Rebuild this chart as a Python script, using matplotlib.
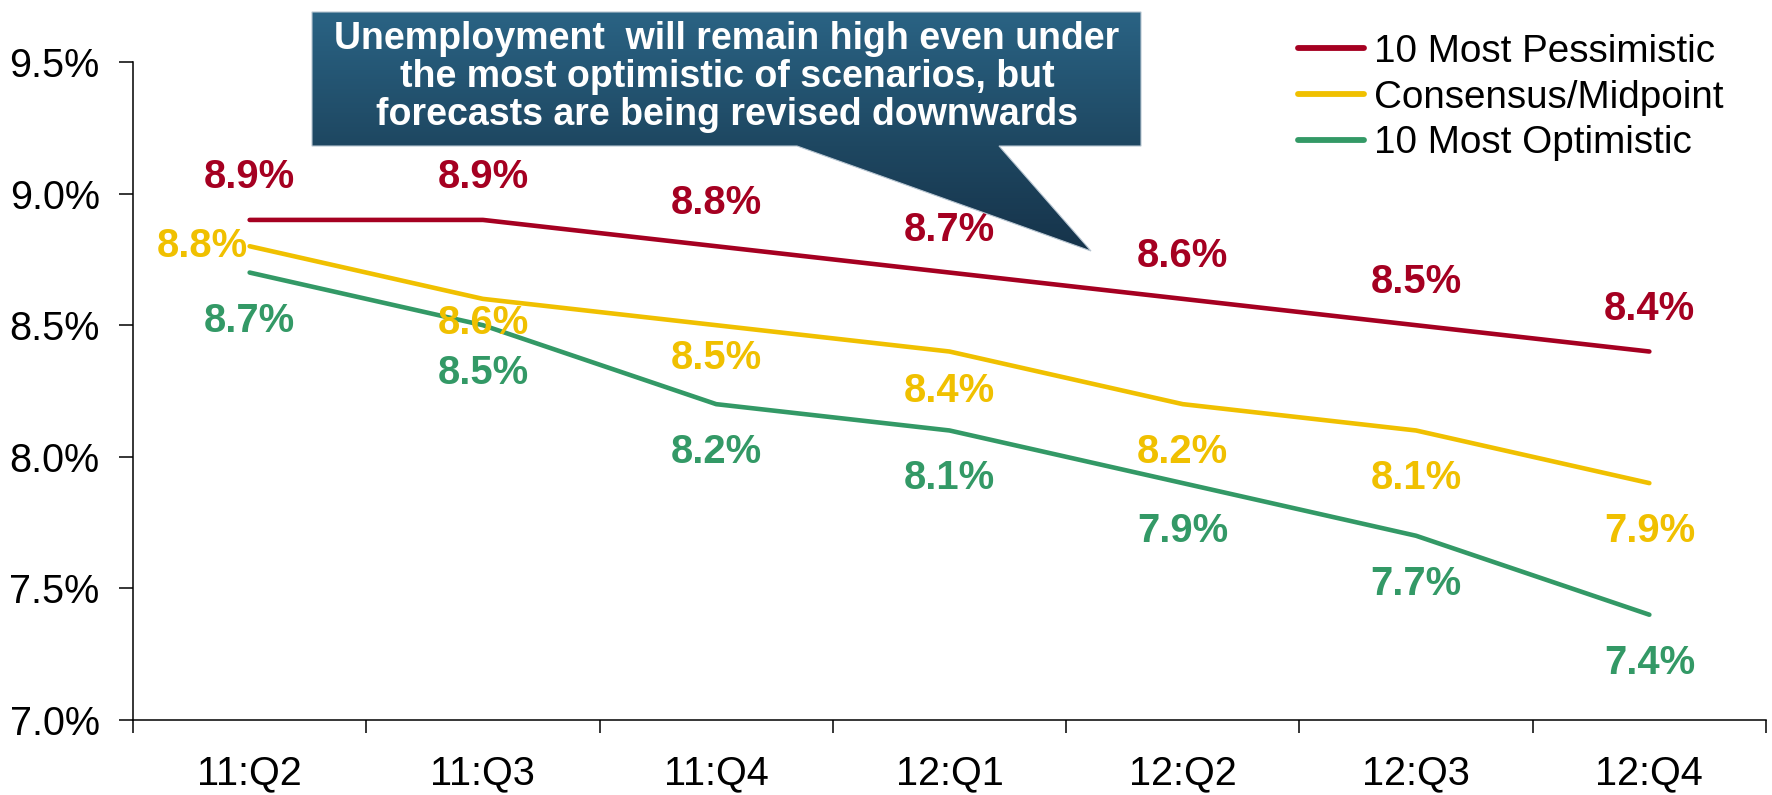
import numpy as np
import matplotlib
matplotlib.use("Agg")
import matplotlib.pyplot as plt
from matplotlib.patches import Polygon
from matplotlib.colors import to_rgb

plt.rcParams['font.family'] = ['Liberation Sans', 'DejaVu Sans']

quarters = ['11:Q2', '11:Q3', '11:Q4', '12:Q1', '12:Q2', '12:Q3', '12:Q4']
pessimistic = [8.9, 8.9, 8.8, 8.7, 8.6, 8.5, 8.4]
consensus = [8.8, 8.6, 8.5, 8.4, 8.2, 8.1, 7.9]
optimistic = [8.7, 8.5, 8.2, 8.1, 7.9, 7.7, 7.4]

RED = '#A50021'
YELLOW = '#F0C000'
GREEN = '#339966'

fig = plt.figure(figsize=(17.72, 7.95), dpi=100)
ax = fig.add_axes([133 / 1772, 75 / 795, (1766 - 133) / 1772, (720 - 62) / 795])

x = np.arange(len(quarters))
lw = 3.3
ax.plot(x, pessimistic, color=RED, lw=lw, solid_capstyle='round', label='10 Most Pessimistic')
ax.plot(x, consensus, color=YELLOW, lw=lw, solid_capstyle='round', label='Consensus/Midpoint')
ax.plot(x, optimistic, color=GREEN, lw=lw, solid_capstyle='round', label='10 Most Optimistic')

ax.set_xlim(-0.5, len(quarters) - 0.5)
ax.set_ylim(7.0, 9.5)

# data labels (offsets in pixels, converted to points)
px = 0.72
lab_kw = dict(textcoords='offset points', fontsize=28.8, fontweight='bold', va='center')
for i, v in enumerate(pessimistic):
    ax.annotate(f'{v:.1f}%', (i, v), xytext=(0, 43 * px), ha='center', color=RED, **lab_kw)
for i, v in enumerate(optimistic):
    ax.annotate(f'{v:.1f}%', (i, v), xytext=(0, -48 * px), ha='center', color=GREEN, **lab_kw)
yel_off = [0, -24, -33, -39, -48, -48, -48]
for i, v in enumerate(consensus):
    if i == 0:
        ax.annotate(f'{v:.1f}%', (i, v), xytext=(-2 * px, 0), ha='right', color=YELLOW, **lab_kw)
    else:
        ax.annotate(f'{v:.1f}%', (i, v), xytext=(0, yel_off[i] * px), ha='center', color=YELLOW, **lab_kw)

# axes styling
for s in ['top', 'right']:
    ax.spines[s].set_visible(False)
for s in ['left', 'bottom']:
    ax.spines[s].set_linewidth(1.1)
ax.set_yticks(np.arange(7.0, 9.51, 0.5))
ax.set_yticklabels([f'{t:.1f}%' for t in np.arange(7.0, 9.51, 0.5)])
ax.tick_params(axis='y', direction='out', length=10, width=1.1, pad=14, labelsize=28.5)
ax.set_xticks(np.arange(-0.5, len(quarters), 1.0))
ax.set_xticklabels([])
ax.tick_params(axis='x', which='major', direction='out', length=9, width=1.1)
ax.set_xticks(x, minor=True)
ax.set_xticklabels(quarters, minor=True)
ax.tick_params(axis='x', which='minor', length=0, pad=25, labelsize=28.5)

leg = fig.legend(loc='upper left', bbox_to_anchor=(1298 / 1772, 1 - 34 / 795), frameon=False,
                 fontsize=27.8, handlelength=1.7, handletextpad=0.27, labelspacing=0.25,
                 borderpad=0, borderaxespad=0)
for h in leg.legend_handles:
    h.set_linewidth(4.2)
    h.set_solid_capstyle('round')

# callout box with gradient
ov = fig.add_axes([0, 0, 1, 1], zorder=5)
ov.set_xlim(0, 1772)
ov.set_ylim(795, 0)
ov.axis('off')
ov.patch.set_alpha(0)
verts = [(312, 12), (1141, 12), (1141, 146), (999, 146), (1091, 251), (797, 146), (312, 146)]
poly = Polygon(verts, closed=True, facecolor='none', edgecolor='#b8c6d2', lw=0.8, zorder=6)
ov.add_patch(poly)
top_c = np.array(to_rgb('#2a6384'))
mid_c = np.array(to_rgb('#1e4761'))
tip_c = np.array(to_rgb('#16334a'))
n = 240
t = np.linspace(0, 1, n)
split = (146 - 12) / (251 - 12)
grad = np.zeros((n, 1, 3))
for k, tt in enumerate(t):
    if tt <= split:
        f = tt / split
        grad[k, 0] = top_c * (1 - f) + mid_c * f
    else:
        f = (tt - split) / (1 - split)
        grad[k, 0] = mid_c * (1 - f) + tip_c * f
im = ov.imshow(grad, extent=(312, 1141, 251, 12), aspect='auto', origin='upper', zorder=5)
im.set_clip_path(poly)
ov.set_xlim(0, 1772)
ov.set_ylim(795, 0)
ov.text(727, 77, 'Unemployment  will remain high even under\nthe most optimistic of scenarios, but\nforecasts are being revised downwards',
        ha='center', va='center', color='white', fontsize=27, fontweight='bold',
        linespacing=1.07, zorder=7)

fig.savefig('out.png', dpi=100)
